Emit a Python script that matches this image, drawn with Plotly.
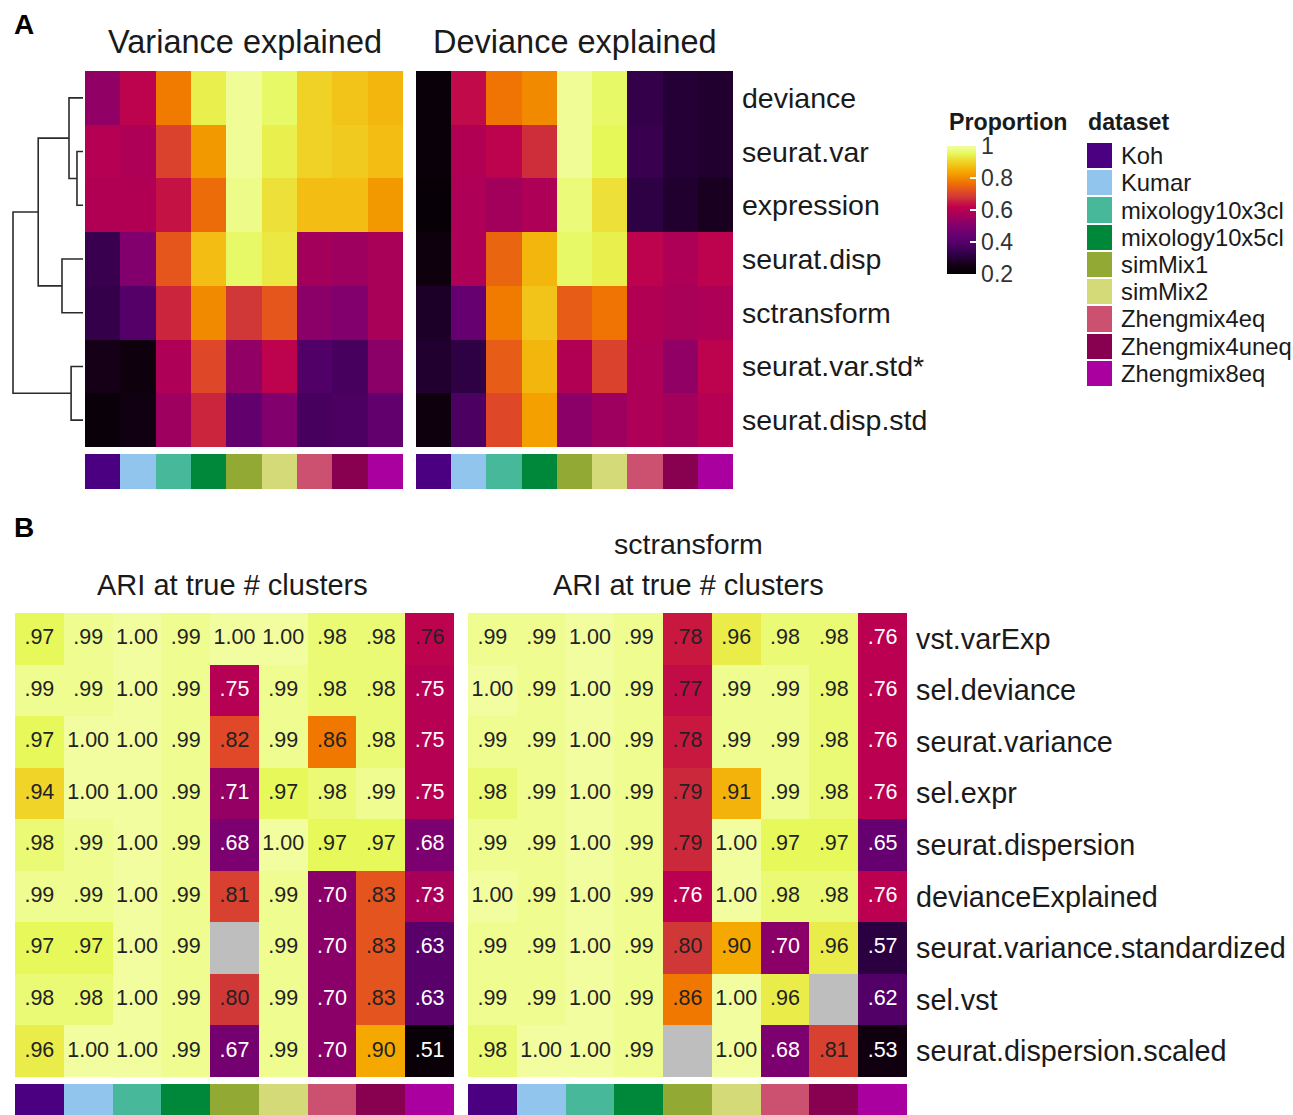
import plotly.graph_objects as go

W, H = 1293, 1115
FONT = "Liberation Sans, Arial, Helvetica, sans-serif"

# ---------------- data ----------------
datasets = ["Koh", "Kumar", "mixology10x3cl", "mixology10x5cl", "simMix1",
            "simMix2", "Zhengmix4eq", "Zhengmix4uneq", "Zhengmix8eq"]
dataset_colors = ["#4B0082", "#92C5EE", "#48B89A", "#00883A", "#92AA34",
                  "#D4DA78", "#CC5070", "#880050", "#AA00A0"]

selection_methods = ["deviance", "seurat.var", "expression", "seurat.disp",
                     "sctransform", "seurat.var.std*", "seurat.disp.std"]

variance_explained = [
    [0.53, 0.62, 0.78, 0.94, 0.99, 0.96, 0.90, 0.88, 0.86],
    [0.60, 0.58, 0.70, 0.82, 0.99, 0.94, 0.90, 0.89, 0.87],
    [0.59, 0.59, 0.64, 0.76, 0.98, 0.92, 0.87, 0.87, 0.82],
    [0.34, 0.50, 0.73, 0.87, 0.96, 0.93, 0.56, 0.55, 0.57],
    [0.33, 0.40, 0.66, 0.80, 0.68, 0.73, 0.52, 0.50, 0.57],
    [0.26, 0.24, 0.58, 0.71, 0.53, 0.62, 0.39, 0.37, 0.52],
    [0.22, 0.25, 0.55, 0.66, 0.43, 0.50, 0.37, 0.38, 0.43],
]
deviance_explained = [
    [0.22, 0.63, 0.77, 0.80, 0.99, 0.96, 0.33, 0.30, 0.29],
    [0.22, 0.59, 0.62, 0.67, 0.99, 0.95, 0.34, 0.30, 0.29],
    [0.21, 0.58, 0.56, 0.58, 0.97, 0.92, 0.32, 0.29, 0.27],
    [0.24, 0.58, 0.75, 0.86, 0.96, 0.94, 0.62, 0.58, 0.62],
    [0.28, 0.44, 0.78, 0.88, 0.74, 0.77, 0.59, 0.57, 0.58],
    [0.29, 0.32, 0.74, 0.86, 0.59, 0.70, 0.58, 0.53, 0.62],
    [0.24, 0.38, 0.71, 0.83, 0.52, 0.55, 0.58, 0.56, 0.60],
]

# hierarchical clustering of the selection methods: (child, child, height)
# ints are leaf rows, "mK" refers to the K-th merge
dendro_merges = [
    (1, 2, 0.086),
    (0, "m0", 0.20),
    (3, 4, 0.30),
    ("m1", "m2", 0.64),
    (5, 6, 0.17),
    ("m3", "m4", 1.00),
]

ari_methods = ["vst.varExp", "sel.deviance", "seurat.variance", "sel.expr",
               "seurat.dispersion", "devianceExplained",
               "seurat.variance.standardized", "sel.vst",
               "seurat.dispersion.scaled"]

ari_default = [
    [0.97, 0.99, 1.00, 0.99, 1.00, 1.00, 0.98, 0.98, 0.762],
    [0.99, 0.99, 1.00, 0.99, 0.75, 0.99, 0.98, 0.98, 0.75],
    [0.97, 1.00, 1.00, 0.99, 0.82, 0.99, 0.86, 0.98, 0.75],
    [0.94, 1.00, 1.00, 0.99, 0.71, 0.97, 0.98, 0.99, 0.75],
    [0.98, 0.99, 1.00, 0.99, 0.68, 1.00, 0.97, 0.97, 0.68],
    [0.99, 0.99, 1.00, 0.99, 0.81, 0.99, 0.70, 0.83, 0.73],
    [0.97, 0.97, 1.00, 0.99, None, 0.99, 0.70, 0.83, 0.63],
    [0.98, 0.98, 1.00, 0.99, 0.80, 0.99, 0.70, 0.83, 0.63],
    [0.96, 1.00, 1.00, 0.99, 0.67, 0.99, 0.70, 0.90, 0.51],
]
ari_sctransform = [
    [0.99, 0.99, 1.00, 0.99, 0.78, 0.96, 0.98, 0.98, 0.758],
    [1.00, 0.99, 1.00, 0.99, 0.77, 0.99, 0.99, 0.98, 0.758],
    [0.99, 0.99, 1.00, 0.99, 0.78, 0.99, 0.99, 0.98, 0.758],
    [0.98, 0.99, 1.00, 0.99, 0.79, 0.91, 0.99, 0.98, 0.758],
    [0.99, 0.99, 1.00, 0.99, 0.79, 1.00, 0.97, 0.97, 0.65],
    [1.00, 0.99, 1.00, 0.99, 0.758, 1.00, 0.98, 0.98, 0.758],
    [0.99, 0.99, 1.00, 0.99, 0.80, 0.90, 0.70, 0.96, 0.57],
    [0.99, 0.99, 1.00, 0.99, 0.86, 1.00, 0.96, None, 0.62],
    [0.98, 1.00, 1.00, 0.99, None, 1.00, 0.68, 0.81, 0.53],
]

proportion_ticks = [0.2, 0.4, 0.6, 0.8, 1.0]
proportion_ticktext = ["0.2", "0.4", "0.6", "0.8", "1"]

# ---------------- styling ----------------
HEAT_SCALE = [
    [0.00, "#050005"], [0.06, "#10000F"], [0.14, "#2A0040"],
    [0.24, "#520068"], [0.30, "#660070"], [0.36, "#7C0070"],
    [0.40, "#8A0068"], [0.46, "#A80058"], [0.52, "#BC0050"],
    [0.56, "#C81840"], [0.60, "#D03838"], [0.64, "#E04828"],
    [0.72, "#F07800"], [0.80, "#F5A800"], [0.88, "#F0D428"],
    [0.94, "#E6F85A"], [0.98, "#EEFC90"], [1.00, "#F2FDA0"],
]


def fx(px):
    return px / W


def fy(py):
    return 1 - py / H


def discrete_scale(colors):
    n = len(colors)
    scale = []
    for i, c in enumerate(colors):
        scale.append([i / n, c])
        scale.append([(i + 1) / n, c])
    return scale


DATASET_SCALE = discrete_scale(dataset_colors)

fig = go.Figure()
layout_axes = {}


def add_axes(idx, x0, x1, y0, y1, xr, yr):
    sx = "" if idx == 1 else str(idx)
    layout_axes["xaxis" + sx] = dict(domain=[fx(x0), fx(x1)], range=xr,
                                     visible=False, fixedrange=True,
                                     anchor="y" + sx)
    layout_axes["yaxis" + sx] = dict(domain=[fy(y1), fy(y0)], range=yr,
                                     visible=False, fixedrange=True,
                                     anchor="x" + sx)
    return "x" + sx, "y" + sx


ncol = len(datasets)
nA = len(selection_methods)
nB = len(ari_methods)
cols = list(range(ncol))

# ---------------- panel A ----------------
A_TOP, A_BOT = 71, 447
ax_a1 = add_axes(1, 85, 403, A_TOP, A_BOT, [-0.5, ncol - 0.5], [nA - 0.5, -0.5])
ax_a2 = add_axes(2, 416, 733, A_TOP, A_BOT, [-0.5, ncol - 0.5], [nA - 0.5, -0.5])
ax_a3 = add_axes(3, 85, 403, 454, 489, [-0.5, ncol - 0.5], [0.5, -0.5])
ax_a4 = add_axes(4, 416, 733, 454, 489, [-0.5, ncol - 0.5], [0.5, -0.5])
ax_dn = add_axes(5, 10, 83, A_TOP, A_BOT, [1.043, 0], [nA - 0.5, -0.5])
ax_lg = add_axes(6, 1087, 1112, 142, 387, [-0.5, 0.5], [ncol - 0.5, -0.5])

for z, (xa, ya) in [(variance_explained, ax_a1), (deviance_explained, ax_a2)]:
    fig.add_trace(go.Heatmap(z=z, x=cols, y=list(range(nA)), coloraxis="coloraxis",
                             xaxis=xa, yaxis=ya, hoverinfo="skip"))

for xa, ya in [ax_a3, ax_a4]:
    fig.add_trace(go.Heatmap(z=[cols], x=cols, y=[0], colorscale=DATASET_SCALE,
                             zmin=-0.5, zmax=ncol - 0.5, showscale=False,
                             xaxis=xa, yaxis=ya, hoverinfo="skip"))

# dataset legend swatches
fig.add_trace(go.Heatmap(z=[[i] for i in cols], x=[0], y=cols,
                         colorscale=DATASET_SCALE, zmin=-0.5, zmax=ncol - 0.5,
                         showscale=False, ygap=2, xaxis=ax_lg[0], yaxis=ax_lg[1],
                         hoverinfo="skip"))

# dendrogram
node_pos, node_h = {}, {}
for i in range(nA):
    node_pos[i], node_h[i] = float(i), 0.0
dx, dy = [], []
for k, (a, b, h) in enumerate(dendro_merges):
    pa, pb = node_pos[a], node_pos[b]
    dx += [node_h[a], h, h, node_h[b], None]
    dy += [pa, pa, pb, pb, None]
    node_pos["m%d" % k] = (pa + pb) / 2
    node_h["m%d" % k] = h
fig.add_trace(go.Scatter(x=dx, y=dy, mode="lines",
                         line=dict(color="#2b2b2b", width=1.6),
                         xaxis=ax_dn[0], yaxis=ax_dn[1], hoverinfo="skip",
                         showlegend=False))

# ---------------- panel B ----------------
B_TOP, B_BOT = 613, 1077
ax_b1 = add_axes(7, 15, 454, B_TOP, B_BOT, [-0.5, ncol - 0.5], [nB - 0.5, -0.5])
ax_b2 = add_axes(8, 468, 907, B_TOP, B_BOT, [-0.5, ncol - 0.5], [nB - 0.5, -0.5])
ax_b3 = add_axes(9, 15, 454, 1084, 1115, [-0.5, ncol - 0.5], [0.5, -0.5])
ax_b4 = add_axes(10, 468, 907, 1084, 1115, [-0.5, ncol - 0.5], [0.5, -0.5])


def fmt(v):
    if v is None:
        return ""
    s = "%.2f" % v
    return s[1:] if s.startswith("0") else s


for z, (xa, ya) in [(ari_default, ax_b1), (ari_sctransform, ax_b2)]:
    fig.add_trace(go.Heatmap(z=z, x=cols, y=list(range(nB)), coloraxis="coloraxis2",
                             xaxis=xa, yaxis=ya, hoverinfo="skip"))
    missing = [[1 if v is None else None for v in row] for row in z]
    fig.add_trace(go.Heatmap(z=missing, x=cols, y=list(range(nB)),
                             colorscale=[[0, "#BEBEBE"], [1, "#BEBEBE"]],
                             showscale=False, xaxis=xa, yaxis=ya, hoverinfo="skip"))
    tx, ty, tt, tc = [], [], [], []
    for r, row in enumerate(z):
        for c, v in enumerate(row):
            if v is None:
                continue
            tx.append(c)
            ty.append(r)
            tt.append(fmt(v))
            tc.append("#FFFFFF" if v < 0.76 else "#222222")
    fig.add_trace(go.Scatter(x=tx, y=ty, text=tt, mode="text",
                             textfont=dict(size=21.5, color=tc, family=FONT),
                             xaxis=xa, yaxis=ya, hoverinfo="skip", showlegend=False))

for xa, ya in [ax_b3, ax_b4]:
    fig.add_trace(go.Heatmap(z=[cols], x=cols, y=[0], colorscale=DATASET_SCALE,
                             zmin=-0.5, zmax=ncol - 0.5, showscale=False,
                             xaxis=xa, yaxis=ya, hoverinfo="skip"))

# ---------------- text ----------------
ann = []


def text(s, x, y, size, xanchor="center", bold=False, color="#1a1a1a"):
    ann.append(dict(text="<b>%s</b>" % s if bold else s, x=fx(x), y=fy(y),
                    xref="paper", yref="paper", xanchor=xanchor, yanchor="middle",
                    showarrow=False, font=dict(size=size, family=FONT, color=color)))


text("A", 12, 25, 28, "left", bold=True, color="#000000")
text("B", 12, 527, 28, "left", bold=True, color="#000000")
text("Variance explained", 245, 42, 32.5)
text("Deviance explained", 575, 42, 32.5)
text("sctransform", 688, 544, 28.5)
text("ARI at true # clusters", 233, 585, 29)
text("ARI at true # clusters", 688, 585, 29)

rowA = (A_BOT - A_TOP) / nA
for i, name in enumerate(selection_methods):
    text(name, 740, A_TOP + (i + 0.5) * rowA, 28.5, "left")

rowB = (B_BOT - B_TOP) / nB
for i, name in enumerate(ari_methods):
    text(name, 914, B_TOP + (i + 0.5) * rowB, 28.8, "left")

text("Proportion", 947, 122, 23.2, "left", bold=True)
text("dataset", 1086, 122, 23.2, "left", bold=True)
rowL = (387 - 142) / ncol
for i, name in enumerate(datasets):
    text(name, 1119, 142 + (i + 0.5) * rowL, 23.8, "left")

fig.update_layout(
    width=W, height=H,
    margin=dict(l=0, r=0, t=0, b=0),
    paper_bgcolor="white", plot_bgcolor="white",
    showlegend=False,
    annotations=ann,
    coloraxis=dict(
        cmin=0.2, cmax=1.0, colorscale=HEAT_SCALE,
        colorbar=dict(
            thickness=29, len=128, lenmode="pixels",
            x=fx(947), xanchor="left", xpad=0,
            y=fy(146), yanchor="top", ypad=0,
            outlinewidth=0,
            tickvals=proportion_ticks, ticktext=proportion_ticktext,
            ticks="inside", ticklen=6, tickcolor="white", tickwidth=1.5,
            tickfont=dict(size=23, family=FONT, color="#333333"),
        ),
    ),
    coloraxis2=dict(cmin=0.5, cmax=1.0, colorscale=HEAT_SCALE, showscale=False),
    **layout_axes,
)

fig.write_html("out.html")
